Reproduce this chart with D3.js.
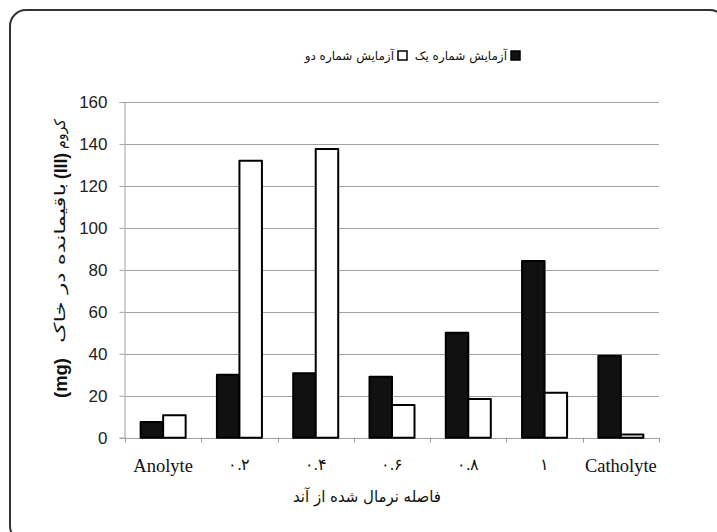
<!DOCTYPE html>
<html><head><meta charset="utf-8">
<script src="https://cdn.jsdelivr.net/npm/d3@7"></script>
<style>html,body{margin:0;padding:0;background:#fff;}svg{display:block;}</style>
</head><body>
<svg id="c" width="717" height="532"></svg>
<script>
const categories = ["Anolyte", "۰.۲", "۰.۴", "۰.۶", "۰.۸", "۱", "Catholyte"];
const series1 = [7.5, 30, 30.7, 29, 50, 84.2, 39];   // آزمایش شماره یک
const series2 = [10.7, 132, 137.6, 15.6, 18.4, 21.4, 1.5]; // آزمایش شماره دو
const seriesNames = ["آزمایش شماره یک", "آزمایش شماره دو"];
const yTicks = [0, 20, 40, 60, 80, 100, 120, 140, 160];

const svg = d3.select("#c");
svg.append("rect").attr("x", 10).attr("y", 10).attr("width", 716).attr("height", 532)
  .attr("rx", 16).attr("fill", "#fff").attr("stroke", "#333").attr("stroke-width", 2);

const L = 125, R = 659, T = 102, B = 437.7;
const x = d3.scaleBand().domain(categories).range([L, R]).paddingInner(0.41).paddingOuter(0.205);
const x1 = d3.scaleBand().domain([0, 1]).range([0, x.bandwidth()]);
const y = d3.scaleLinear().domain([0, 160]).range([B, T]);

// gridlines
svg.append("g").selectAll("line").data(yTicks.filter(d => d > 0)).join("line")
  .attr("x1", L).attr("x2", R).attr("y1", d => Math.round(y(d)) + 0.5).attr("y2", d => Math.round(y(d)) + 0.5)
  .attr("stroke", "#a0a0a0").attr("stroke-width", 1);

// y axis
const ya = svg.append("g").attr("transform", `translate(${L - 0.5},0)`)
  .call(d3.axisLeft(y).tickValues(yTicks).tickSize(5).tickPadding(12));
ya.selectAll("path,line").attr("stroke", "#a0a0a0");
ya.selectAll("text").attr("font-family", "'Liberation Sans', Arial, sans-serif").attr("font-size", 17).attr("fill", "#222");

// x axis
const xa = svg.append("g").attr("transform", `translate(0,${Math.round(B) + 0.5})`)
  .call(d3.axisBottom(x).tickSize(0).tickPadding(20));
xa.select("path").attr("stroke", "#a0a0a0").attr("d", `M${L},0H${R}`);
xa.selectAll("text").attr("font-family", "'Liberation Serif', 'DejaVu Serif', serif")
  .attr("font-size", d => /[A-Za-z]/.test(d) ? 18.5 : 16).attr("fill", "#111");
// category boundary ticks
const step = (R - L) / categories.length;
svg.append("g").selectAll("line").data(d3.range(categories.length + 1)).join("line")
  .attr("x1", i => Math.round(L + i * step) + 0.5).attr("x2", i => Math.round(L + i * step) + 0.5)
  .attr("y1", B).attr("y2", B + 5).attr("stroke", "#a0a0a0");

// bars
const data = categories.map((c, i) => [series1[i], series2[i]]);
const g = svg.append("g").selectAll("g").data(data).join("g")
  .attr("transform", (d, i) => `translate(${x(categories[i])},0)`);
g.selectAll("rect").data(d => d).join("rect")
  .attr("x", (d, j) => x1(j)).attr("width", x1.bandwidth())
  .attr("y", d => y(d)).attr("height", d => B - y(d))
  .attr("fill", (d, j) => j === 0 ? "#111" : "#fff")
  .attr("stroke", "#000").attr("stroke-width", 2).attr("stroke-linejoin", "round");

// legend
const lf = "'DejaVu Sans', sans-serif";
svg.append("rect").attr("x", 511).attr("y", 51).attr("width", 9).attr("height", 9).attr("fill", "#111").attr("stroke", "#000").attr("stroke-width", 1.5);
svg.append("text").attr("x", 507).attr("y", 60).attr("text-anchor", "start").attr("direction", "rtl")
  .attr("font-family", lf).attr("font-size", 12).attr("fill", "#111").text(seriesNames[0]);
svg.append("rect").attr("x", 398).attr("y", 51).attr("width", 9).attr("height", 9).attr("fill", "#fff").attr("stroke", "#000").attr("stroke-width", 1.5);
svg.append("text").attr("x", 394).attr("y", 60).attr("text-anchor", "start").attr("direction", "rtl")
  .attr("font-family", lf).attr("font-size", 12).attr("fill", "#111").text(seriesNames[1]);

// y title pieces (rotated)
const ytParts = [
  {t: "کروم", c: 134, b: false, len: 30},
  {t: "(III)", c: 166, b: true, len: 26},
  {t: "باقیمانده در  خاک", c: 263, b: false, len: 160},
  {t: "(mg)", c: 378, b: true, len: 40}
];
svg.append("g").selectAll("text").data(ytParts).join("text")
  .attr("transform", d => `translate(${d.b ? 67 : 65},${d.c}) rotate(-90)`)
  .attr("text-anchor", "middle")
  .attr("font-family", d => d.b ? "'Liberation Sans', sans-serif" : "'DejaVu Sans', sans-serif")
  .attr("font-weight", d => d.b ? "bold" : "normal")
  .attr("font-size", d => d.b ? 18 : 15)
  .attr("textLength", d => d.len).attr("lengthAdjust", "spacingAndGlyphs")
  .attr("fill", "#111").text(d => d.t);

// x title
svg.append("text").attr("x", 367).attr("y", 502).attr("text-anchor", "middle")
  .attr("font-family", "'DejaVu Sans', sans-serif").attr("font-size", 16).attr("fill", "#111")
  .attr("textLength", 148).attr("lengthAdjust", "spacingAndGlyphs")
  .text("فاصله نرمال شده از آند");
</script>
</body></html>
